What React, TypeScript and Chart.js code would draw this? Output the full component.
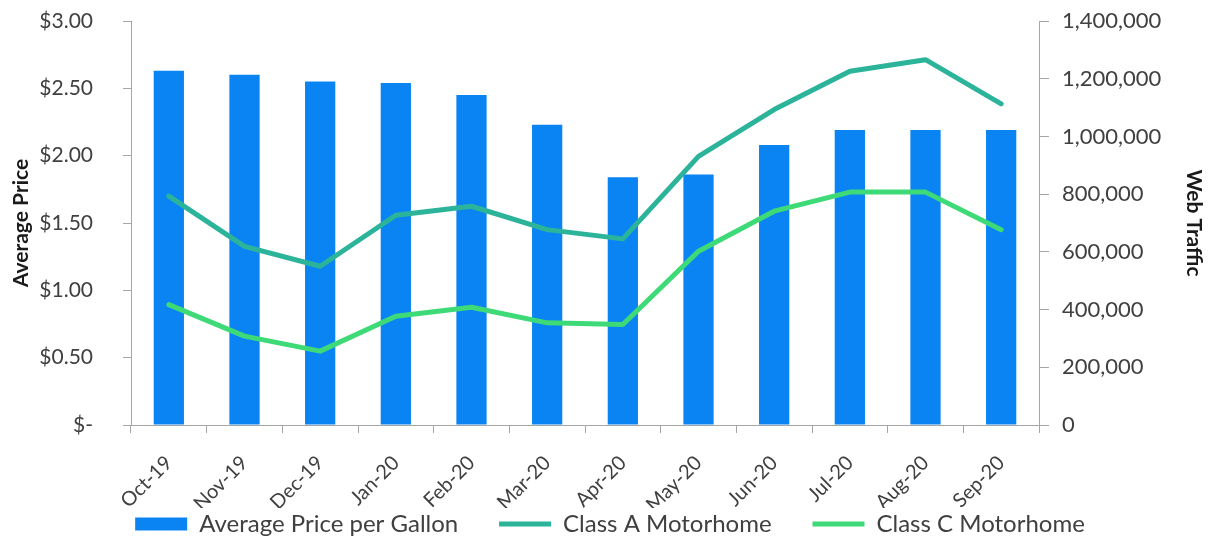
import React, { useEffect, useRef } from "react";
import { Chart, registerables } from "chart.js";

Chart.register(...registerables);

const months = ["Oct-19", "Nov-19", "Dec-19", "Jan-20", "Feb-20", "Mar-20", "Apr-20", "May-20", "Jun-20", "Jul-20", "Aug-20", "Sep-20"];
const avgPrice = [2.63, 2.6, 2.55, 2.54, 2.45, 2.23, 1.84, 1.86, 2.08, 2.19, 2.19, 2.19];
const classA = [793000, 619000, 550000, 727000, 758000, 677000, 645000, 931000, 1093000, 1226000, 1266000, 1113000];
const classC = [417000, 308000, 256000, 377000, 408000, 354000, 348000, 602000, 741000, 807000, 807000, 677000];

const FONT = "Lato, 'Open Sans', sans-serif";
const TEXT = "#404040";
const AXIS = "#a6a6a6";
const LEGEND_GAP = "      ";

export default function App() {
  const ref = useRef<HTMLCanvasElement | null>(null);
  useEffect(() => {
    document.body.style.margin = "0";
    const ctx = ref.current!;
    const defaultGen = Chart.defaults.plugins.legend.labels.generateLabels;
    const chart = new Chart(ctx, {
      data: {
        labels: months,
        datasets: [
          {
            type: "bar",
            label: "Average Price per Gallon",
            data: avgPrice,
            backgroundColor: "#0a84f2",
            borderWidth: 0,
            yAxisID: "y",
            categoryPercentage: 1,
            barPercentage: 0.4,
            pointStyle: "rect",
            order: 2,
          },
          {
            type: "line",
            label: "Class A Motorhome",
            data: classA,
            borderColor: "#2cb49b",
            backgroundColor: "#2cb49b",
            borderWidth: 5,
            pointRadius: 0,
            tension: 0,
            borderJoinStyle: "round",
            borderCapStyle: "round",
            yAxisID: "y1",
            pointStyle: "line",
            order: 1,
          },
          {
            type: "line",
            label: "Class C Motorhome",
            data: classC,
            borderColor: "#3fda78",
            backgroundColor: "#3fda78",
            borderWidth: 5,
            pointRadius: 0,
            tension: 0,
            borderJoinStyle: "round",
            borderCapStyle: "round",
            yAxisID: "y1",
            pointStyle: "line",
            order: 0,
          },
        ],
      } as any,
      options: {
        responsive: false,
        animation: false,
        layout: { padding: { top: 0, bottom: -9, left: 0, right: 0 } },
        plugins: {
          tooltip: { enabled: false },
          legend: {
            position: "bottom",
            labels: {
              usePointStyle: true,
              pointStyleWidth: 52,
              boxHeight: 13,
              padding: 4,
              color: TEXT,
              font: { family: FONT, size: 24 },
              sort: (a: any, b: any) => a.datasetIndex - b.datasetIndex,
              generateLabels: (c: any) => {
                const items = defaultGen(c);
                items.sort((a: any, b: any) => a.datasetIndex - b.datasetIndex);
                return items.map((it: any, i: number) => ({ ...it, text: i < items.length - 1 ? it.text + LEGEND_GAP : it.text }));
              },
            },
          },
        },
        scales: {
          x: {
            offset: true,
            grid: { offset: true, drawOnChartArea: false, drawTicks: true, tickLength: 8, color: AXIS },
            border: { display: true, color: AXIS },
            ticks: { color: TEXT, font: { family: FONT, size: 20 }, maxRotation: 45, minRotation: 45, padding: 18, autoSkip: false },
            afterFit: (s: any) => { s.height = 83; },
          },
          y: {
            position: "left",
            min: 0,
            max: 3,
            grid: { drawOnChartArea: false, tickLength: 8, color: AXIS },
            border: { display: true, color: AXIS },
            ticks: {
              stepSize: 0.5,
              color: TEXT,
              font: { family: FONT, size: 21 },
              padding: 30,
              callback: (v: any) => (Number(v) === 0 ? "$-" : "$" + Number(v).toFixed(2)),
            },
            title: { display: true, text: "Average Price", color: "#1a1a1a", font: { family: FONT, size: 21, weight: "bold" }, padding: { top: 9, bottom: 0 } },
            afterFit: (s: any) => { s.width = 131; s.paddingTop = 21; s.paddingBottom = 0; },
          },
          y1: {
            position: "right",
            min: 0,
            max: 1400000,
            grid: { drawOnChartArea: false, tickLength: 10, color: AXIS },
            border: { display: true, color: AXIS },
            ticks: {
              stepSize: 200000,
              color: TEXT,
              font: { family: FONT, size: 22 },
              padding: 13,
              callback: (v: any) => Number(v).toLocaleString("en-US"),
            },
            title: { display: true, text: "Web Traffic", color: "#1a1a1a", font: { family: FONT, size: 21, weight: "bold" }, padding: { top: 14, bottom: 0 } },
            afterFit: (s: any) => { s.width = 181; s.paddingTop = 21; s.paddingBottom = 0; },
          },
        },
      } as any,
    });
    return () => chart.destroy();
  }, []);
  return (
    <div style={{ width: 1220, height: 537, background: "#fff" }}>
      <canvas ref={ref} width={1220} height={537} style={{ display: "block" }} />
    </div>
  );
}
